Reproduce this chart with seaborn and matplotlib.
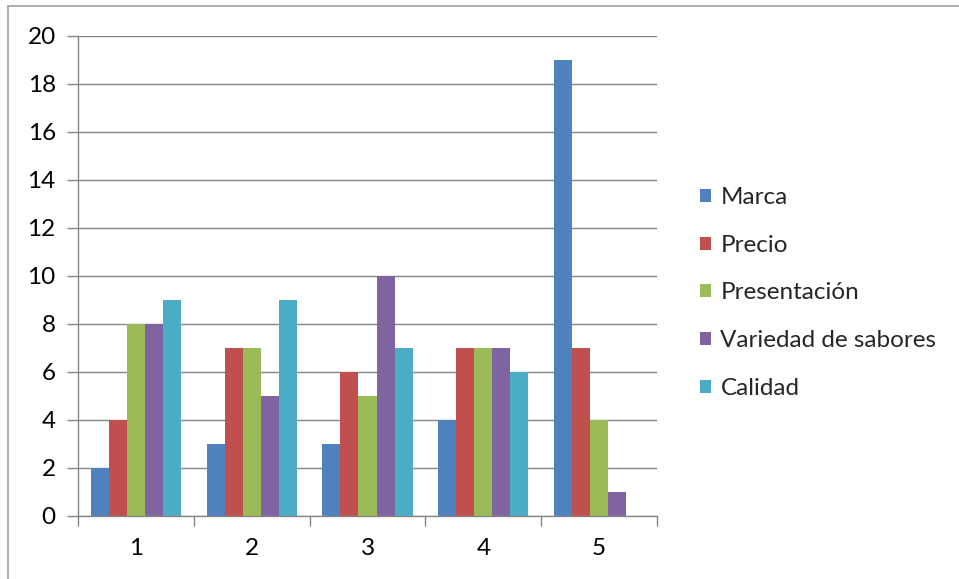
import matplotlib
matplotlib.use("Agg")
import matplotlib.pyplot as plt
import seaborn as sns
import pandas as pd
from matplotlib.patches import Patch
from matplotlib.lines import Line2D

categories = ["1", "2", "3", "4", "5"]
series_names = ["Marca", "Precio", "Presentación", "Variedad de sabores", "Calidad"]
marca = [2, 3, 3, 4, 19]
precio = [4, 7, 6, 7, 7]
presentacion = [8, 7, 5, 7, 4]
variedad = [8, 5, 10, 7, 1]
calidad = [9, 9, 7, 6, 0]
colors = ["#4F81BD", "#C0504D", "#9BBB59", "#8064A2", "#4BACC6"]

rows = []
for name, vals in zip(series_names, [marca, precio, presentacion, variedad, calidad]):
    for c, v in zip(categories, vals):
        rows.append({"cat": c, "serie": name, "valor": v})
df = pd.DataFrame(rows)

sns.set_theme(style="white")
plt.rcParams["font.family"] = ["Lato", "DejaVu Sans"]

FS = 17.5

fig = plt.figure(figsize=(9.59, 5.79), dpi=100)
ax = fig.add_axes([78/959, 1-516/579, (657-78)/959, (516-36)/579])

sns.barplot(data=df, x="cat", y="valor", hue="serie", order=categories,
            hue_order=series_names, palette=colors, width=0.78, gap=0,
            saturation=1, ax=ax, legend=False, linewidth=0)

axis_col = "#868686"
ax.set_ylim(0, 20)
ax.set_xlim(-0.5, 4.5)
ax.set_yticks(range(0, 21, 2))
ax.yaxis.grid(True, color=axis_col, linewidth=1)
ax.set_axisbelow(True)
ax.set_xlabel("")
ax.set_ylabel("")
for s in ["top", "right"]:
    ax.spines[s].set_visible(False)
for s in ["left", "bottom"]:
    ax.spines[s].set_color(axis_col)
    ax.spines[s].set_linewidth(1)
ax.tick_params(axis="y", length=8, color=axis_col, width=1, labelsize=FS, pad=8, left=True)
ax.tick_params(axis="x", which="major", length=0, labelsize=FS, pad=16)
ax.set_xticks([i + 0.5 for i in range(-1, 5)], minor=True)
ax.tick_params(axis="x", which="minor", length=7, color=axis_col, width=1, bottom=True)
for lab in ax.get_xticklabels() + ax.get_yticklabels():
    lab.set_color("black")

handles = [Patch(facecolor=c, edgecolor="none") for c in colors]
fig.legend(handles, series_names, loc="center left", bbox_to_anchor=(690/959, 1-293/579),
           frameon=False, fontsize=FS, handlelength=0.45, handleheight=0.45,
           handletextpad=0.4, labelspacing=1.1, borderaxespad=0)

# outer chart border (top and left)
fig.add_artist(Line2D([8/959, 1], [1-6/579, 1-6/579], transform=fig.transFigure, color="#A0A0A0", linewidth=1.2))
fig.add_artist(Line2D([8/959, 8/959], [0, 1-6/579], transform=fig.transFigure, color="#A0A0A0", linewidth=1.2))

fig.savefig("out.png", dpi=100, facecolor="white")
